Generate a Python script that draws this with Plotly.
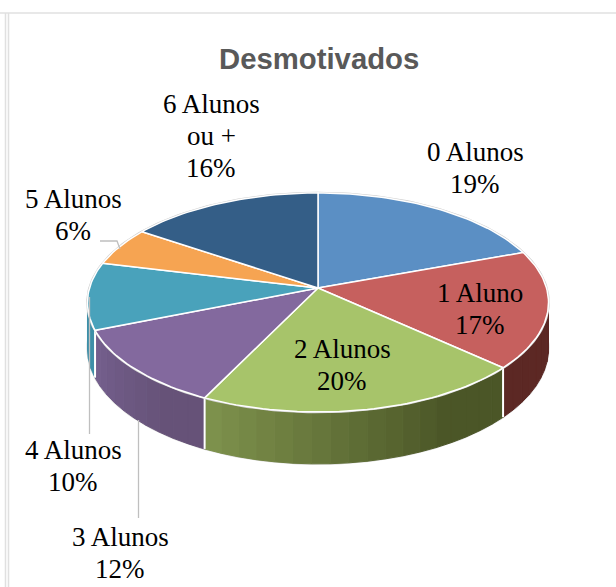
import math
import plotly.graph_objects as go

categories = ["0 Alunos", "1 Aluno", "2 Alunos", "3 Alunos", "4 Alunos", "5 Alunos", "6 Alunos<br>ou +"]
values = [19.4, 17.4, 20.4, 11.7, 9.9, 5.7, 15.5]
top_colors = ["#5B8FC4", "#C6605E", "#A7C46A", "#83699E", "#49A2BB", "#F6A452", "#345E87"]
wall_start = ["#3D5F85", "#5C2824", "#4B5627", "#665278", "#3E8FA8", "#B87A3C", "#24415D"]
wall_end = ["#3D5F85", "#5C2824", "#7F934D", "#75608E", "#3E8FA8", "#B87A3C", "#24415D"]
label_pos = [(475, 168), (480, 309), (342, 365), (120, 553), (73, 466), (73, 215), (211, 136)]

# projection of the pie disc, in page pixels
CX, CY, R, B, K, DEPTH = 318.0, 288.0, 228.5, 107.6, 0.1324, 45.0
LINE_PITCH = 32


def project(theta, drop=0.0):
    u, v = math.sin(theta), math.cos(theta)
    d = 1 + K * v
    return CX + R * u / d, CY - B * v / d + drop / d


def arc(a, b, drop=0.0):
    n = max(2, int(abs(b - a) / math.radians(1.5)))
    return [project(a + (b - a) * i / n, drop) for i in range(n + 1)]


def hex_rgb(c):
    return tuple(int(c[i:i + 2], 16) for i in (1, 3, 5))


def mix(c1, c2, t):
    a, b = hex_rgb(c1), hex_rgb(c2)
    t = min(1.0, max(0.0, (t - 0.25) / 0.75))
    return "rgb(%d,%d,%d)" % tuple(round(a[i] + (b[i] - a[i]) * t) for i in range(3))


def poly(points, fill, line_color, width):
    return go.Scatter(x=[p[0] for p in points], y=[p[1] for p in points], mode="lines",
                      fill="toself", fillcolor=fill, line=dict(color=line_color, width=width),
                      hoverinfo="skip", showlegend=False)


total = sum(values)
edges = [0.0]
for val in values:
    edges.append(edges[-1] + val / total * 2 * math.pi)

fig = go.Figure()

# bottom outline
bot = arc(math.radians(85), math.radians(275), DEPTH)
fig.add_trace(go.Scatter(x=[p[0] for p in bot], y=[p[1] for p in bot], mode="lines",
                         line=dict(color="#D9D9D9", width=2), hoverinfo="skip", showlegend=False))

# side walls, front part only (the top disc hides the rest)
for i, val in enumerate(values):
    a, b = edges[i], edges[i + 1]
    lo, hi = max(a, math.radians(80)), min(b, math.radians(280))
    if hi <= lo:
        continue
    n = max(1, int((hi - lo) / math.radians(4)))
    for j in range(n):
        s = lo + (hi - lo) * j / n
        e = lo + (hi - lo) * (j + 1) / n
        col = mix(wall_start[i], wall_end[i], (j + 0.5) / n)
        pts = arc(s, e) + arc(e, s, DEPTH)
        pts.append(pts[0])
        fig.add_trace(poly(pts, col, col, 1))

# white edges between walls
for i in range(1, len(edges) - 1):
    t = edges[i]
    if math.radians(90) < t < math.radians(270):
        p1, p2 = project(t), project(t, DEPTH)
        fig.add_trace(go.Scatter(x=[p1[0], p2[0]], y=[p1[1], p2[1]], mode="lines",
                                 line=dict(color="white", width=2), hoverinfo="skip", showlegend=False))

# top disc
rim = arc(0, 2 * math.pi)
fig.add_trace(go.Scatter(x=[p[0] for p in rim], y=[p[1] for p in rim], mode="lines",
                         line=dict(color="#CFCFCF", width=2.5), hoverinfo="skip", showlegend=False))
for i, val in enumerate(values):
    pts = [(CX, CY)] + arc(edges[i], edges[i + 1]) + [(CX, CY)]
    fig.add_trace(poly(pts, top_colors[i], "white", 1.5))

# leader lines
leaders = [([100, 117, 120], [241, 241, 249]), ([89.5, 89.5], [297, 434]), ([138.5, 138.5], [420, 518])]
for xs, ys in leaders:
    fig.add_trace(go.Scatter(x=xs, y=ys, mode="lines", line=dict(color="#BFBFBF", width=1.3),
                             hoverinfo="skip", showlegend=False))

annotations = []
for cat, val, (x, y) in zip(categories, values, label_pos):
    lines = cat.split("<br>") + [f"{round(val)}%"]
    top = y - LINE_PITCH * (len(lines) - 1) / 2
    for k, line in enumerate(lines):
        annotations.append(dict(x=x, y=top + k * LINE_PITCH, xref="x", yref="y", text=line, showarrow=False,
                                xanchor="center", yanchor="middle",
                                font=dict(family="Liberation Serif", size=27, color="#000000")))
annotations.append(dict(x=318.5, y=58, xref="x", yref="y", text="<b>Desmotivados</b>", showarrow=False,
                        xanchor="center", yanchor="middle",
                        font=dict(family="Liberation Sans", size=29.3, color="#595959")))

shapes = [
    dict(type="line", x0=0, x1=616, y0=13, y1=13, xref="x", yref="y", line=dict(color="#E0E0E0", width=1.5)),
    dict(type="line", x0=5.5, x1=5.5, y0=13, y1=587, xref="x", yref="y", line=dict(color="#E0E0E0", width=1.5)),
    dict(type="line", x0=8.5, x1=8.5, y0=13, y1=587, xref="x", yref="y", line=dict(color="#E0E0E0", width=1.5)),
]

fig.update_layout(
    width=616, height=587, autosize=False,
    margin=dict(l=0, r=0, t=0, b=0), paper_bgcolor="white", plot_bgcolor="white",
    xaxis=dict(range=[0, 616], visible=False, fixedrange=True),
    yaxis=dict(range=[587, 0], visible=False, fixedrange=True),
    annotations=annotations, shapes=shapes, showlegend=False,
)
fig.write_html("out.html", config=dict(displayModeBar=False),
               post_script="document.body.style.margin='0';document.documentElement.style.overflow='hidden';")
